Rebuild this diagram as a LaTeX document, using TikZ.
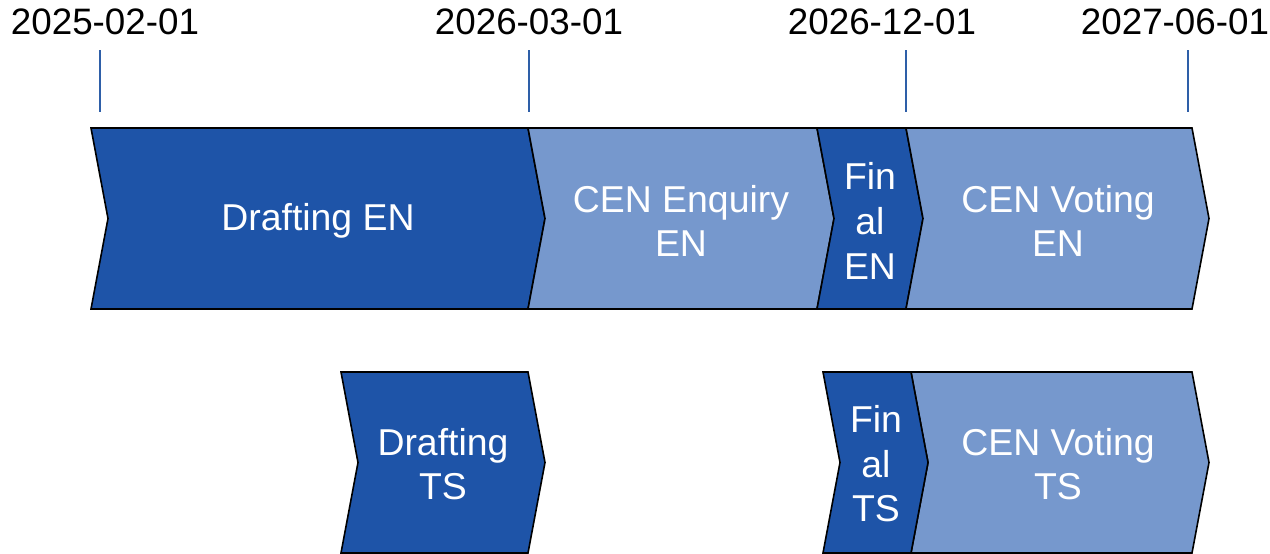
\documentclass[tikz,border=0pt]{standalone}
\usepackage{fontspec}
\setmainfont{Liberation Sans}
\definecolor{darkblue}{HTML}{1E54A8}
\definecolor{lightblue}{HTML}{7698CD}
\definecolor{tickblue}{HTML}{2E5FA8}
\tikzset{
  phasedark/.style={fill=darkblue,draw=black,line width=0.8pt,line join=miter},
  phaselight/.style={fill=lightblue,draw=black,line width=0.8pt,line join=miter},
  phasetext/.style={text=white,align=center,font=\fontsize{18.7}{22.3}\selectfont},
  datetext/.style={anchor=base,font=\fontsize{18.4}{22}\selectfont},
  tick/.style={draw=tickblue,line width=0.6pt}
}
% chevron: #1 style, #2 left x, #3 right x, #4 top y
\newcommand{\chevron}[4]{%
  \path[#1] (#2,#4) -- (#3,#4) -- (#3+17,#4+90.5) -- (#3,#4+181)
    -- (#2,#4+181) -- (#2+17,#4+90.5) -- cycle;}
\begin{document}
\begin{tikzpicture}[x=0.5pt,y=-0.5pt]
  \useasboundingbox (0,0) rectangle (1270,553);

  % dates
  \node[datetext] (d1) at (105,34)  {2025-02-01};
  \node[datetext] (d2) at (529,34)  {2026-03-01};
  \node[datetext] (d3) at (882,34)  {2026-12-01};
  \node[datetext] (d4) at (1175,34) {2027-06-01};

  \foreach \x/\n in {100/1, 529/2, 906/3, 1188/4} {
    \coordinate (t\n) at (\x,50);
    \coordinate (b\n) at (\x,112);
    \draw[tick] (t\n) -- (b\n);
  }

  % EN row
  \chevron{phasedark}{91}{528}{128}
  \chevron{phaselight}{528}{817}{128}
  \chevron{phasedark}{817}{906}{128}
  \chevron{phaselight}{906}{1192}{128}

  % TS row
  \chevron{phasedark}{341}{528}{372}
  \chevron{phaselight}{911}{1192}{372}
  \chevron{phasedark}{823}{911}{372}

  \node[phasetext] (draften)  at (318,221)  {Drafting EN};
  \node[phasetext] (enqen)    at (681,221)  {CEN Enquiry\\EN};
  \node[phasetext] (finalen)  at (870,221)  {Fin\\al\\EN};
  \node[phasetext] (voteen)   at (1058,221) {CEN Voting\\EN};

  \node[phasetext] (drafts)   at (443,464)  {Drafting\\TS};
  \node[phasetext] (finalts)  at (876,464)  {Fin\\al\\TS};
  \node[phasetext] (votets)   at (1058,464) {CEN Voting\\TS};
\end{tikzpicture}
\end{document}
